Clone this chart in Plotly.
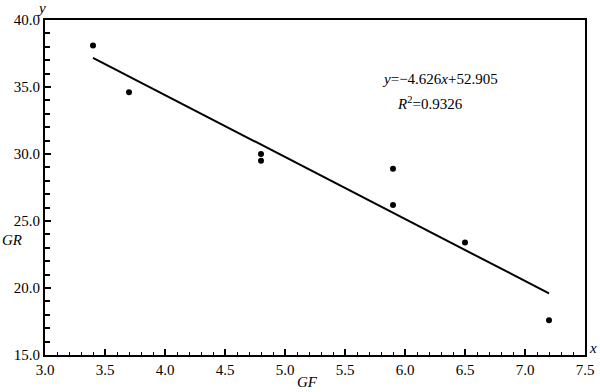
import plotly.graph_objects as go

# Data
gf = [3.4, 3.7, 4.8, 4.8, 5.9, 5.9, 6.5, 7.2]
gr = [38.1, 34.6, 30.0, 29.5, 28.9, 26.2, 23.4, 17.6]
slope = -4.626
intercept = 52.905
r2 = 0.9326
x_ticks = [3.0, 3.5, 4.0, 4.5, 5.0, 5.5, 6.0, 6.5, 7.0, 7.5]
y_ticks = [15.0, 20.0, 25.0, 30.0, 35.0, 40.0]

fit_x = [min(gf), max(gf)]
fit_y = [slope * v + intercept for v in fit_x]

FONT = "Liberation Serif, Times New Roman, serif"

fig = go.Figure()
fig.add_trace(go.Scatter(x=fit_x, y=fit_y, mode="lines",
                         line=dict(color="black", width=2), showlegend=False))
fig.add_trace(go.Scatter(x=gf, y=gr, mode="markers",
                         marker=dict(color="black", size=6), showlegend=False))

axis_common = dict(showgrid=False, zeroline=False, showline=True, linecolor="black",
                   linewidth=2, mirror=True, ticks="inside", tickcolor="black",
                   tickwidth=1.5, automargin=False,
                   tickfont=dict(family=FONT, size=15, color="black"))

fig.update_xaxes(range=[3.0, 7.5], tickvals=x_ticks,
                 ticktext=[f"{v:.1f}" for v in x_ticks], ticklen=6,
                 minor=dict(dtick=0.1, tick0=3.0, ticks="inside", ticklen=3,
                            tickcolor="black", tickwidth=1),
                 **axis_common)
fig.update_yaxes(range=[15.0, 40.0], tickvals=y_ticks,
                 ticktext=[f"{v:.1f}" for v in y_ticks], ticklen=6,
                 minor=dict(dtick=1, tick0=15, ticks="inside", ticklen=5,
                            tickcolor="black", tickwidth=1.5),
                 **axis_common)

anno_font = dict(family=FONT, size=15, color="black")
annos = [
    dict(text="<i>y</i>=−4.626<i>x</i>+52.905", x=5.79, y=35.6,
         xref="x", yref="y", xanchor="left", yanchor="middle"),
    dict(text=f"<i>R</i><sup>2</sup>={r2}", x=5.92, y=33.8,
         xref="x", yref="y", xanchor="left", yanchor="middle"),
    dict(text="<i>y</i>", x=0.0, y=1.0, xref="paper", yref="paper",
         xanchor="center", yanchor="bottom", xshift=-4, yshift=2),
    dict(text="<i>x</i>", x=1.0, y=0.0, xref="paper", yref="paper",
         xanchor="left", yanchor="middle", xshift=2, yshift=7),
    dict(text="<i>GR</i>", x=0.0, y=0.343, xref="paper", yref="paper",
         xanchor="right", yanchor="middle", xshift=-21),
    dict(text="<i>GF</i>", x=0.486, y=0.0, xref="paper", yref="paper",
         xanchor="center", yanchor="top", yshift=-17),
]
for a in annos:
    fig.add_annotation(showarrow=False, font=anno_font, **a)

fig.update_layout(width=600, height=392, margin=dict(l=45, r=15, t=20, b=37),
                  plot_bgcolor="white", paper_bgcolor="white",
                  font=dict(family=FONT, color="black"))

fig.write_html("out.html", config={"displayModeBar": False},
               post_script="document.body.style.margin='0';")
